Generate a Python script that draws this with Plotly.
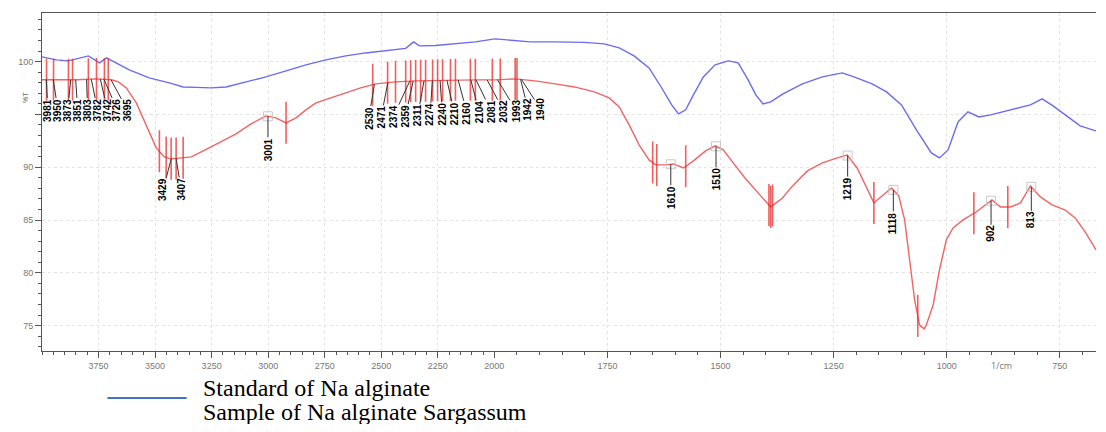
import numpy as np
import plotly.graph_objects as go

# ---------------- data (wavenumber in 1/cm, transmittance in %T) ----------------
std_wn = [4000, 3936, 3883, 3795, 3746, 3715, 3614, 3526, 3437, 3376, 3318, 3252, 3186, 3098,
          3010, 2921, 2833, 2745, 2657, 2569, 2481, 2392, 2357, 2331, 2260, 2172, 2084, 1998,
          1965, 1921, 1866, 1801, 1757, 1724, 1691, 1658, 1630, 1608, 1593, 1577, 1560, 1538,
          1512, 1483, 1461, 1439, 1422, 1406, 1389, 1362, 1319, 1275, 1231, 1205, 1165, 1133,
          1100, 1067, 1034, 1016, 997, 975, 953, 929, 903, 859, 815, 789, 765, 738, 705, 670]
std_T = [100.45, 100.16, 100.07, 100.54, 99.88, 100.35, 99.21, 98.46, 97.98, 97.60, 97.56, 97.51,
         97.60, 98.08, 98.55, 99.12, 99.69, 100.16, 100.54, 100.82, 101.06, 101.25, 101.87, 101.49,
         101.53, 101.68, 101.87, 102.15, 102.05, 101.87, 101.87, 101.82, 101.68, 101.30, 100.54,
         99.40, 97.50, 95.90, 95.05, 95.43, 96.85, 98.55, 99.69, 100.07, 99.88, 98.27, 96.85,
         95.99, 96.18, 96.94, 97.89, 98.55, 98.93, 98.55, 97.89, 97.13, 95.90, 93.53, 91.35,
         90.88, 91.64, 94.29, 95.24, 94.76, 94.95, 95.43, 95.90, 96.47, 95.80, 94.95, 93.91, 93.44]

smp_wn = [4000, 3936, 3847, 3759, 3693, 3662, 3627, 3583, 3539, 3495, 3459, 3429, 3384, 3340,
          3287, 3217, 3142, 3076, 3010, 2966, 2921, 2877, 2833, 2789, 2723, 2657, 2591, 2525,
          2437, 2348, 2260, 2172, 2084, 1998, 1954, 1910, 1866, 1823, 1779, 1746, 1724, 1702,
          1680, 1658, 1643, 1621, 1604, 1582, 1560, 1533, 1512, 1494, 1472, 1446, 1417, 1389,
          1363, 1341, 1308, 1275, 1242, 1220, 1198, 1176, 1161, 1143, 1122, 1106, 1093, 1082,
          1071, 1060, 1050, 1045, 1030, 1016, 1001, 986, 964, 935, 913, 900, 881, 859, 837,
          815, 793, 767, 738, 716, 694, 670]
smp_T = [98.28, 98.28, 98.28, 98.36, 98.28, 98.08, 97.51, 96.09, 94.01, 91.83, 90.98, 90.79,
         90.88, 90.98, 91.54, 92.30, 93.15, 94.10, 94.86, 94.67, 94.20, 94.67, 95.43, 96.09,
         96.56, 97.04, 97.51, 97.89, 98.08, 98.17, 98.22, 98.27, 98.27, 98.27, 98.36, 98.17,
         97.89, 97.60, 97.13, 96.56, 95.71, 94.01, 92.12, 90.69, 90.22, 90.22, 90.31, 89.93,
         90.60, 91.54, 92.02, 91.64, 90.41, 88.98, 87.57, 86.24, 87.09, 88.23, 89.65, 90.41,
         90.88, 91.16, 89.93, 88.04, 86.62, 87.28, 88.04, 87.28, 85.01, 81.22, 77.43, 75.06,
         74.70, 75.06, 76.96, 80.27, 83.11, 84.25, 85.01, 85.76, 86.43, 86.90, 86.24, 86.24,
         86.62, 88.23, 87.19, 86.43, 85.95, 85.20, 83.87, 82.17]

# peak-pick labels of the sample spectrum
single_peaks = [3001, 1610, 1510, 1219, 1118, 902, 813]
pair_peaks = [3429, 3407]
cluster1_peaks = [3981, 3950, 3873, 3851, 3803, 3782, 3742, 3726, 3695]
cluster2_peaks = [2530, 2471, 2374, 2359, 2311, 2274, 2240, 2210, 2160, 2104, 2081, 2032,
                  1993, 1942, 1940]
# red peak-marker positions
marker_wn = [3980, 3949, 3883, 3865, 3795, 3759, 3724, 3707,
             3481, 3451, 3429, 3407, 3376, 2921,
             2538, 2472, 2437, 2392, 2370, 2348, 2326, 2304, 2273, 2251, 2229, 2194, 2172,
             2106, 2084, 2009, 1987, 1954, 1950,
             1650, 1641, 1577, 1393, 1389, 1385, 1161, 1064, 940, 865]

y_ticks = [75, 80, 85, 90, 95, 100]
y_ticktext = ["75", "80", "85", "90", "", "100"]
x_ticks_hi = [3750, 3500, 3250, 3000, 2750, 2500, 2250, 2000]
x_ticks_lo = [1750, 1500, 1250, 1000, 750]

legend_names = ["Standard of Na alginate", "Sample of Na alginate Sargassum"]

# ---------------- layout geometry (page pixels) ----------------
PAGE_W, PAGE_H = 1106, 432
BODY = 8                      # default body margin of the html page
PL, PR, PT, PB = 42, 1106, 13, 351   # plot box on the page
W, H = PAGE_W - BODY, PAGE_H - 2 * BODY   # avoid page overflow / scrollbars
ML, MR, MT, MB = PL - BODY, W - (PR - BODY), PT - BODY, H - (PB - BODY)
WN_MAX, WN_SPLIT, WN_MIN = 4000, 2000, 670
EXPAND = 2.0  # region below 2000 1/cm drawn at double scale
Y_RANGE = [72.6, 104.6]
pw, ph = PR - PL, PB - PT
d1 = (WN_MAX - WN_SPLIT) / ((WN_MAX - WN_SPLIT) + EXPAND * (WN_SPLIT - WN_MIN))

BLUE = "#6b6bf2"
RED = "#f06464"


def px_x(w):
    if w >= WN_SPLIT:
        return PL + (WN_MAX - w) / (WN_MAX - WN_SPLIT) * d1 * pw
    return PL + d1 * pw + (WN_SPLIT - w) / (WN_SPLIT - WN_MIN) * (1 - d1) * pw


def px_y(t):
    return PT + (Y_RANGE[1] - t) / (Y_RANGE[1] - Y_RANGE[0]) * ph


def xref_of(w):
    return "x" if w >= WN_SPLIT else "x2"


smp_sorted = np.argsort(smp_wn)
smp_wn_s = np.array(smp_wn)[smp_sorted]
smp_T_s = np.array(smp_T)[smp_sorted]


def t_at(w):
    return float(np.interp(w, smp_wn_s, smp_T_s))


fig = go.Figure()
for xa in ["x", "x2"]:
    fig.add_trace(go.Scatter(x=std_wn, y=std_T, xaxis=xa, yaxis="y", mode="lines",
                             line=dict(color=BLUE, width=1.4), name=legend_names[0],
                             showlegend=False, hoverinfo="skip"))
    fig.add_trace(go.Scatter(x=smp_wn, y=smp_T, xaxis=xa, yaxis="y", mode="lines",
                             line=dict(color=RED, width=1.4), name=legend_names[1],
                             showlegend=False, hoverinfo="skip"))
    mw = [w for w in marker_wn if (w >= WN_SPLIT) == (xa == "x")]
    fig.add_trace(go.Scatter(x=mw, y=[t_at(w) for w in mw], xaxis=xa, yaxis="y", mode="markers",
                             marker=dict(symbol="line-ns", size=30, color="rgba(235,40,40,0.75)",
                                         line=dict(color="rgba(235,40,40,0.75)", width=1.6)),
                             showlegend=False, hoverinfo="skip"))
    lw = [w for w in single_peaks if (w >= WN_SPLIT) == (xa == "x")]
    fig.add_trace(go.Scatter(x=lw, y=[t_at(w) for w in lw], xaxis=xa, yaxis="y", mode="markers",
                             marker=dict(symbol="square-open", size=9, color="#c8c8c8",
                                         line=dict(color="#c8c8c8", width=1)),
                             showlegend=False, hoverinfo="skip"))

annotations = []
LABEL_FONT = dict(family="Liberation Sans, Arial", size=10, color="black")


def add_label(w, label_px_x, label_px_y):
    hx, hy = px_x(w), px_y(t_at(w))
    annotations.append(dict(x=w, y=t_at(w), xref=xref_of(w), yref="y", text=f"<b>{w}</b>",
                            textangle=-90, font=LABEL_FONT, showarrow=True, arrowhead=0,
                            arrowwidth=1, arrowcolor="#333", ax=label_px_x - hx,
                            ay=label_px_y - hy, borderpad=0))


for w in single_peaks:
    add_label(w, px_x(w), px_y(t_at(w)) + 33)
for i, w in enumerate(pair_peaks):
    add_label(w, px_x(w) + (-8 if i == 0 else 5), px_y(t_at(w)) + 31)
c1x = np.linspace(48, 128, len(cluster1_peaks))
for w, lx in zip(cluster1_peaks, c1x):
    add_label(w, lx, 110)
c2x = np.linspace(372, 545, len(cluster2_peaks))
c2y = np.linspace(118, 109, len(cluster2_peaks))
for w, lx, ly in zip(cluster2_peaks, c2x, c2y):
    add_label(w, lx, ly)


def paper_x(px):
    return (px - PL) / pw


def paper_y(py):
    return (PB - py) / ph


annotations.append(dict(x=paper_x(17), y=96.6, xref="paper", yref="y", text="%T", textangle=-90,
                        showarrow=False, font=dict(size=8, color="#666")))
annotations.append(dict(x=880, y=paper_y(366), xref="x2", yref="paper", text="1/cm",
                        showarrow=False, font=dict(size=9, color="#777"), yanchor="middle"))

shapes = [dict(type="line", xref="paper", yref="paper", x0=paper_x(108), x1=paper_x(188),
               y0=paper_y(398), y1=paper_y(398), line=dict(color="#4472c4", width=2))]
for i, name in enumerate(legend_names):
    annotations.append(dict(x=paper_x(203), y=paper_y(388 + 24 * i), xref="paper",
                            yref="paper", xanchor="left", yanchor="middle", text=name,
                            showarrow=False,
                            font=dict(family="Liberation Serif, Times New Roman", size=24,
                                      color="black")))

axis_common = dict(showline=True, linecolor="#555", linewidth=1, mirror=True, ticks="outside",
                   ticklen=6, tickcolor="#555", tickfont=dict(size=9, color="#777",
                                                             family="Liberation Sans, Arial"),
                   showgrid=True, gridcolor="#e4e4e4", griddash="dot", zeroline=False,
                   minor=dict(dtick=50, tick0=0, ticklen=3, tickcolor="#555", showgrid=False,
                              ticks="outside"))

fig.update_layout(
    width=W, height=H, margin=dict(l=ML, r=MR, t=MT, b=MB),
    paper_bgcolor="white", plot_bgcolor="white", showlegend=False,
    xaxis=dict(domain=[0, d1], range=[WN_MAX, WN_SPLIT], anchor="y", tickmode="array",
               tickvals=x_ticks_hi, **axis_common),
    xaxis2=dict(domain=[d1, 1], range=[WN_SPLIT, WN_MIN], anchor="y", tickmode="array",
                tickvals=x_ticks_lo, **axis_common),
    yaxis=dict(range=Y_RANGE, anchor="x", tickmode="array", tickvals=y_ticks,
               ticktext=y_ticktext, showline=True, linecolor="#555", ticks="outside", ticklen=6,
               tickcolor="#555", tickfont=dict(size=9, color="#777", family="Liberation Sans, Arial"),
               showgrid=True, gridcolor="#e4e4e4", griddash="dot", zeroline=False,
               minor=dict(dtick=1, ticklen=3, tickcolor="#555", showgrid=False, ticks="outside")),
    annotations=annotations, shapes=shapes,
)

fig.write_html("out.html")
